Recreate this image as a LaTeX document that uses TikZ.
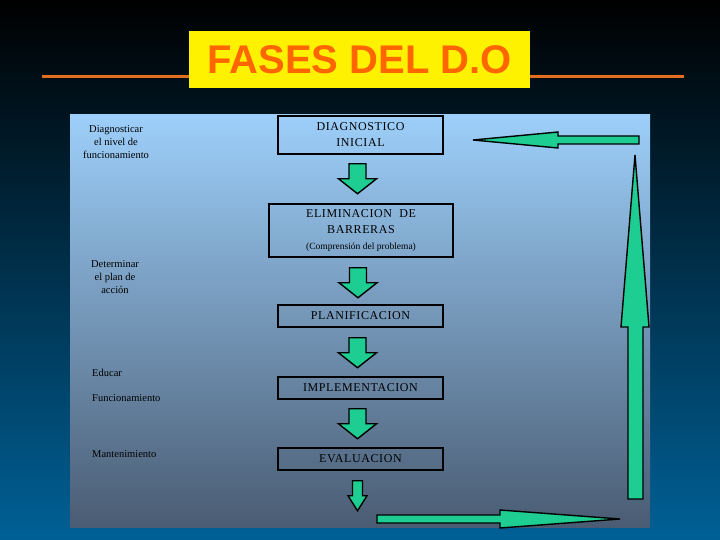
\documentclass[tikz,border=0pt]{standalone}
\usepackage{fontspec}
\setmainfont{Liberation Serif}
\newfontfamily\titlefont{Liberation Sans}
\newfontfamily\boxfont[LetterSpace=5]{Liberation Serif}
\usepackage{tikz}

\definecolor{bgblue}{RGB}{0,96,150}
\definecolor{paneltop}{RGB}{157,207,250}
\definecolor{panelbot}{RGB}{74,92,115}
\definecolor{arrgreen}{RGB}{30,205,145}
\definecolor{titleorange}{RGB}{255,102,0}
\definecolor{lineorange}{RGB}{224,112,32}

\tikzset{
 fase/.style={draw, line width=1.5pt, inner sep=0pt, align=center,
   font=\boxfont\fontsize{12}{16}\selectfont},
 nota/.style={inner sep=0pt, align=center, font=\fontsize{10.5}{13}\selectfont},
 arrfill/.style={fill=arrgreen, draw=black, line width=1.4pt},
 downarr/.pic={\path[arrfill] (-8.5,0) -- (8.5,0) -- (8.5,15) -- (19,15)
   -- (0,30) -- (-19,15) -- (-8.5,15) -- cycle;},
 smallarr/.pic={\path[arrfill] (-5,0) -- (5,0) -- (5,15) -- (9.5,15)
   -- (0,30) -- (-9.5,15) -- (-5,15) -- cycle;}
}

\begin{document}
\begin{tikzpicture}[x=1pt,y=-1pt]

 %%%  background

 \path[use as bounding box, top color=black, bottom color=bgblue] (0,0) rectangle (720,540);
 \path[top color=paneltop, bottom color=panelbot] (70,115) rectangle (650,527);

 % title
 \draw[lineorange, line width=3pt] (42,77) -- (684,77);
 \node [fill=yellow, minimum width=341pt, minimum height=57pt, text=titleorange,
   font=\titlefont\bfseries\fontsize{40}{40}\selectfont] (title) at (359.5,59.5) {FASES DEL D.O};

 %%%  nodes

 % fases
 \node [fase, minimum width=165pt, minimum height=38pt] (diag) at (360.5,135) {DIAGNOSTICO\\INICIAL};
 \node [fase, minimum width=184pt, minimum height=53pt] (elim) at (361,230.5)
   {ELIMINACION\ \ DE\\BARRERAS\\{\rmfamily\fontsize{9.5}{16}\selectfont (Comprensión del problema)}};
 \node [fase, minimum width=165pt, minimum height=22pt] (plan) at (360.5,316) {PLANIFICACION};
 \node [fase, minimum width=165pt, minimum height=22pt] (impl) at (360.5,388) {IMPLEMENTACION};
 \node [fase, minimum width=165pt, minimum height=22pt] (eval) at (360.5,459) {EVALUACION};

 % notas
 \node [nota] (diagtxt) at (116,142) {Diagnosticar\\el nivel de\\funcionamiento};
 \node [nota] (plantxt) at (115,277) {Determinar\\el plan de\\acción};
 \node [nota, anchor=west] (educ) at (92,373) {Educar};
 \node [nota, anchor=west] (func) at (92,398) {Funcionamiento};
 \node [nota, anchor=west] (mant) at (92,454) {Mantenimiento};

 %%%  arrows

 \pic at ([xshift=-3pt,yshift=-9pt]diag.south) {downarr};
 \pic at ([xshift=-3pt,yshift=-10pt]elim.south) {downarr};
 \pic at ([xshift=-3pt,yshift=-10pt]plan.south) {downarr};
 \pic at ([xshift=-3pt,yshift=-9pt]impl.south) {downarr};
 \pic at ([xshift=-3pt,yshift=-10pt]eval.south) {smallarr};

 % return loop
 \path[arrfill] (377,515) -- (500,515) -- (500,510) -- (620,519) -- (500,528) -- (500,523) -- (377,523) -- cycle;
 \path[arrfill] (628,499) -- (628,327) -- (621,327) -- (635,155) -- (649,327) -- (643,327) -- (643,499) -- cycle;
 \path[arrfill] (639,136) -- (558,136) -- (558,132) -- (473,140) -- (558,148) -- (558,144) -- (639,144) -- cycle;

\end{tikzpicture}
\end{document}
